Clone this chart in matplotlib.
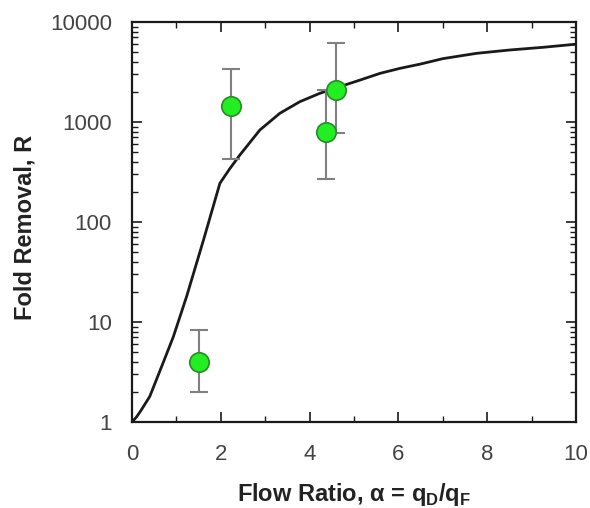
import numpy as np
import matplotlib
matplotlib.use("Agg")
import matplotlib.pyplot as plt
from matplotlib.ticker import LogLocator, FixedLocator, NullFormatter

plt.rcParams['font.family'] = ['Liberation Sans', 'DejaVu Sans']
plt.rcParams['mathtext.fontset'] = 'custom'
plt.rcParams['mathtext.rm'] = 'Liberation Sans'
plt.rcParams['mathtext.bf'] = 'Liberation Sans:bold'

# Model curve
curve_x = [0, 0.1, 0.2, 0.4, 0.7, 0.93, 1.23, 1.61, 1.98, 2.2, 2.43, 2.88, 3.33, 3.78,
           4.23, 4.68, 5.14, 5.59, 6.04, 6.5, 7.0, 7.76, 8.51, 9.26, 10.0]
curve_y = [1, 1.12, 1.3, 1.8, 3.9, 7.1, 18, 66, 244, 340, 468, 832, 1222, 1596,
           1936, 2256, 2630, 3069, 3443, 3800, 4300, 4860, 5250, 5585, 6000]

# Experimental points
pt_x = [1.5, 2.24, 4.38, 4.59]
pt_y = [4.0, 1445, 790, 2090]
err_lo = [2.0, 427, 269, 782]
err_hi = [8.3, 3365, 2090, 6120]

x_ticks = [0, 2, 4, 6, 8, 10]
y_ticks = [1, 10, 100, 1000, 10000]

fig = plt.figure(figsize=(5.9, 5.08), dpi=100)
ax = fig.add_axes([132/590, 86/508, 444/590, 400/508])

ax.plot(curve_x, curve_y, color='#1a1a1a', lw=2.0, zorder=2, solid_joinstyle='round')

yerr = [np.array(pt_y) - np.array(err_lo), np.array(err_hi) - np.array(pt_y)]
ax.errorbar(pt_x, pt_y, yerr=yerr, fmt='none', ecolor='#808080', elinewidth=1.5,
            capsize=6.5, capthick=1.5, zorder=3)
ax.plot(pt_x, pt_y, 'o', ms=14, mfc='#22ee22', mec='#2a8a2a', mew=1.2, zorder=4, ls='none')

ax.set_yscale('log')
ax.set_xlim(0, 10)
ax.set_ylim(1, 10000)
ax.set_xticks(x_ticks)
ax.set_xticklabels([str(v) for v in x_ticks])
ax.xaxis.set_minor_locator(FixedLocator([1, 3, 5, 7, 9]))
ax.set_yticks(y_ticks)
ax.set_yticklabels([str(v) for v in y_ticks])
ax.yaxis.set_minor_locator(LogLocator(base=10, subs=np.arange(2, 10), numticks=20))
ax.yaxis.set_minor_formatter(NullFormatter())

for s in ax.spines.values():
    s.set_linewidth(1.6)
    s.set_color('#1a1a1a')

ax.tick_params(which='both', direction='in', top=True, right=True, colors='#1a1a1a',
               labelcolor='#444444', labelsize=16)
ax.tick_params(which='major', length=7, width=1.2)
ax.tick_params(which='minor', length=4, width=1.0)
ax.tick_params(axis='x', which='major', pad=16)
ax.tick_params(axis='y', which='major', pad=14.5)

ax.set_ylabel('Fold Removal, R', fontsize=17, fontweight='bold', color='#222222',
              va='center', ha='center')
ax.yaxis.set_label_coords((25 - 132) / 444, (508 - 86 - 227) / 400)
ax.set_xlabel(r'Flow Ratio, α = q$_{\mathbf{D}}$/q$_{\mathbf{F}}$', fontsize=17,
              fontweight='bold', color='#222222', va='center', ha='center')
ax.xaxis.set_label_coords(0.5, (508 - 86 - 495) / 400)

fig.savefig('out.png', dpi=100, facecolor='white')
